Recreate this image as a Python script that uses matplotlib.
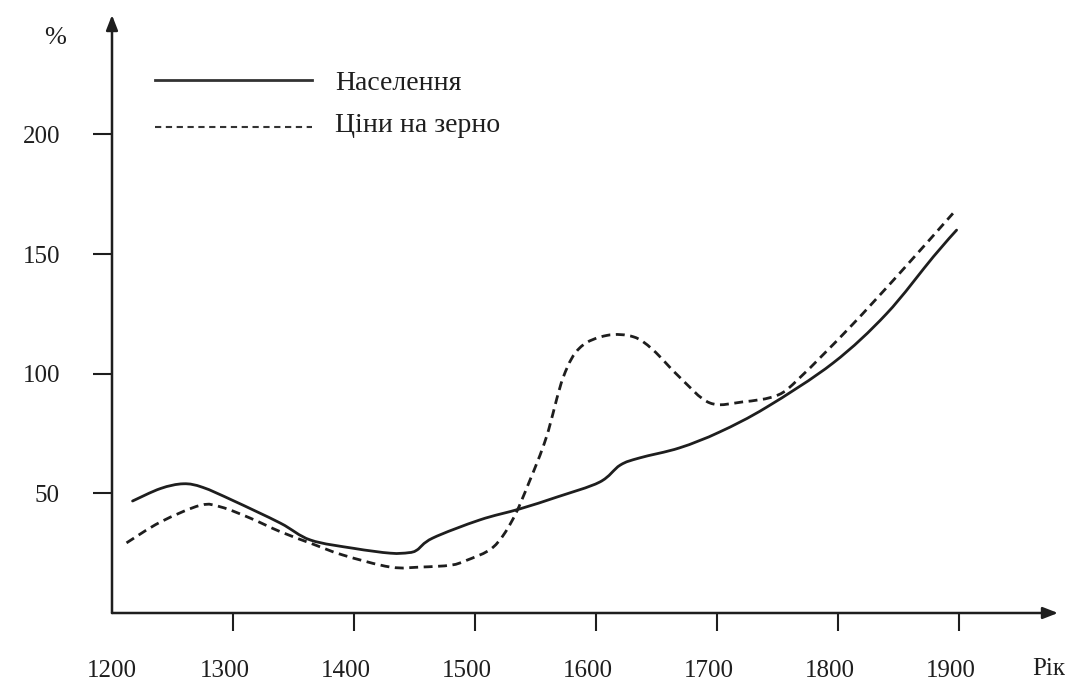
import matplotlib
matplotlib.use("Agg")
import matplotlib.pyplot as plt
import matplotlib.transforms as mtransforms
from matplotlib.path import Path
from matplotlib.patches import PathPatch
import numpy as np

# Населення (population), %
pop_years = [1217, 1240, 1259, 1275, 1300, 1339, 1364, 1400, 1430, 1445, 1452,
             1465, 1504, 1537, 1568, 1603, 1620, 1636, 1669, 1702, 1741, 1796,
             1840, 1879, 1898]
pop_vals = [46.8, 52, 54, 52.5, 47, 37.6, 30.5, 27, 25, 25.2, 26.3,
            31.3, 38.9, 43.5, 48.5, 54.7, 61.8, 64.8, 69, 75.6, 86, 104.5,
            125, 149, 160]

# Ціни на зерно (grain prices), %
price_years = [1212, 1240, 1273, 1290, 1314, 1339, 1365, 1391, 1430, 1455, 1480,
               1493, 1515, 1531, 1545, 1559, 1573, 1587, 1609, 1631, 1647, 1669,
               1694, 1721, 1750, 1769, 1810, 1851, 1895]
price_vals = [29.3, 38, 45, 44.3, 39.7, 34, 29, 24.2, 19.2, 19.2, 20,
              22, 27.5, 38.9, 55, 73.5, 98.6, 111, 116, 115.4, 110, 98.6,
              87.8, 88.2, 91, 98.6, 119.5, 142, 167]

x_ticks = [1200, 1300, 1400, 1500, 1600, 1700, 1800, 1900]
y_ticks = [50, 100, 150, 200]
legend_labels = ["Населення", "Ціни на зерно"]

plt.rcParams["font.family"] = ["Liberation Serif", "DejaVu Serif"]
W, H = 1065, 682
fig = plt.figure(figsize=(W / 100, H / 100), dpi=100)


def fx(px):
    return px / W


def fy(py):
    return 1 - py / H


def smooth_path(xs, ys):
    # Catmull-Rom through the read points, drawn as cubic Bezier segments
    p = np.column_stack([xs, ys]).astype(float)
    ext = np.vstack([p[0], p, p[-1]])
    verts = [p[0]]
    codes = [Path.MOVETO]
    for i in range(1, len(ext) - 2):
        c1 = ext[i] + (ext[i + 1] - ext[i - 1]) / 6
        c2 = ext[i + 1] - (ext[i + 2] - ext[i]) / 6
        verts += [c1, c2, ext[i + 1]]
        codes += [Path.CURVE4] * 3
    return Path(verts, codes)


ink = "#1e1e1e"
ax = fig.add_axes([fx(112), fy(613), fx(1058) - fx(112), fy(15) - fy(613)])
ax.set_xlim(1200, 1200 + 946 / 1.21)
ax.set_ylim(0, 598 / 2.393)

ax.add_patch(PathPatch(smooth_path(pop_years, pop_vals), fill=False,
                       edgecolor=ink, lw=2.0, capstyle="round"))
ax.add_patch(PathPatch(smooth_path(price_years, price_vals), fill=False,
                       edgecolor=ink, lw=2.0, linestyle=(0, (3.2, 2.0))))

for s in ax.spines.values():
    s.set_visible(False)

# axes with arrow heads
arrow = dict(arrowstyle="-|>,head_length=0.9,head_width=0.35", color=ink, lw=1.8,
             shrinkA=0, shrinkB=0)
ax.annotate("", xy=(1, 0), xytext=(0, 0), xycoords="axes fraction", arrowprops=arrow)
ax.annotate("", xy=(0, 1), xytext=(0, 0), xycoords="axes fraction", arrowprops=arrow)

ax.set_xticks(x_ticks)
ax.set_xticklabels([str(t) for t in x_ticks])
ax.set_yticks(y_ticks)
ax.set_yticklabels([str(t) for t in y_ticks])
ax.tick_params(axis="x", direction="out", length=13, width=1.5, color=ink,
               pad=21, labelsize=18, labelcolor=ink)
ax.tick_params(axis="y", direction="out", length=14, width=1.5, color=ink,
               pad=23.5, labelsize=18, labelcolor=ink)
ax.xaxis.get_major_ticks()[0].tick1line.set_visible(False)
shift = mtransforms.ScaledTranslation(-8 / 100, 0, fig.dpi_scale_trans)
for lab in ax.get_xticklabels()[1:]:
    lab.set_transform(lab.get_transform() + shift)

fig.text(fx(55), fy(38), "%", ha="center", va="center", fontsize=19, color=ink)
fig.text(fx(1032), fy(669), "Рік", ha="left", va="center", fontsize=18, color=ink)

# legend drawn by hand
fig.add_artist(plt.Line2D([fx(155), fx(312)], [fy(80), fy(80)], color="#333333", lw=2.0))
fig.add_artist(plt.Line2D([fx(155), fx(312)], [fy(127), fy(127)], color="#333333",
                          lw=1.5, linestyle=(0, (3.0, 2.2))))
fig.text(fx(335), fy(84), legend_labels[0], ha="left", va="center", fontsize=20, color=ink)
fig.text(fx(335), fy(126), legend_labels[1], ha="left", va="center", fontsize=20, color=ink)

fig.savefig("out.png", dpi=100)
